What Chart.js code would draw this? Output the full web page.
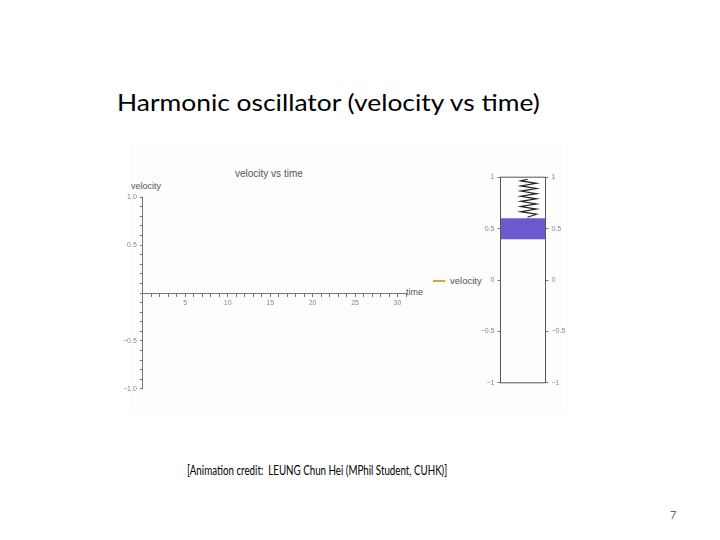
<!DOCTYPE html>
<html>
<head>
<meta charset="utf-8">
<script src="https://cdn.jsdelivr.net/npm/chart.js@4.4.0/dist/chart.umd.min.js"></script>
<style>
  body { margin: 0; width: 720px; height: 540px; background: #fff; position: relative; overflow: hidden; font-family: Lato, "Noto Sans", sans-serif; }
  .abs { position: absolute; white-space: nowrap; }
  #title { left: 117px; top: 87px; font-size: 24px; color: #000; transform: scaleX(1.1); transform-origin: left; }
  #credit { left: 187px; top: 462px; font-size: 13px; color: #000; transform: scaleX(0.75); transform-origin: left; }
  #page { left: 670px; top: 508px; font-size: 11px; color: #666; }
  #panel { left: 130px; top: 143px; width: 433px; height: 272px; background: #fdfdfd; }
  .small { font-family: "Liberation Sans", Arial, sans-serif; color: #555; font-size: 9px; }
  #ctitle { left: 235px; top: 168px; font-size: 10px; }
  #vlabel { left: 131px; top: 181px; }
  #tlabel { left: 406px; top: 287px; }
  #legend { left: 433px; top: 275px; font-size: 9.5px; }
  #legend span { display: inline-block; width: 12px; height: 2px; background: #e0a040; vertical-align: middle; margin-right: 5px; }
  #main { left: 120px; top: 190px; }
  #osc { left: 478px; top: 170px; }
</style>
</head>
<body>
<div id="panel" class="abs"></div>
<div id="title" class="abs">Harmonic oscillator (velocity vs time)</div>
<div id="ctitle" class="abs small">velocity vs time</div>
<div id="vlabel" class="abs small">velocity</div>
<div id="tlabel" class="abs small">time</div>
<div id="legend" class="abs small"><span></span>velocity</div>
<div id="credit" class="abs">[Animation credit: &nbsp;LEUNG Chun Hei (MPhil Student, CUHK)]</div>
<div id="page" class="abs">7</div>
<canvas id="main" class="abs" width="290" height="206"></canvas>
<canvas id="osc" class="abs" width="90" height="220"></canvas>
<script>
// Datos: aún no hay puntos de velocidad en este fotograma
const timeValues = [];
const velocityValues = [];
const xLabelTicks = [5, 10, 15, 20, 25, 30];
const yLabelTicks = [1.0, 0.5, -0.5, -1.0];

// Oscilador: posición del bloque y del resorte
const blockTop = 0.6;
const blockBottom = 0.4;
const springX = [0.6, 0.45, 0.8, 0.45, 0.8, 0.45, 0.8, 0.45, 0.8, 0.45, 0.8, 0.45, 0.8, 0.45, 0.8, 0.6];
const springY = [0.98, 0.965, 0.94, 0.915, 0.89, 0.865, 0.84, 0.815, 0.79, 0.765, 0.74, 0.715, 0.69, 0.665, 0.64, 0.61];
const oscTicks = [1, 0.5, 0, -0.5, -1];

const gray = '#777';
const tickFont = { family: 'Liberation Sans', size: 7 };

new Chart(document.getElementById('main'), {
  type: 'line',
  data: {
    datasets: [{
      label: 'velocity',
      data: timeValues.map((t, i) => ({ x: t, y: velocityValues[i] })),
      borderColor: '#e0a040',
      pointRadius: 0,
    }],
  },
  options: {
    responsive: false,
    animation: false,
    layout: { padding: { top: 6, bottom: 6, right: 4 } },
    plugins: { legend: { display: false }, tooltip: { enabled: false } },
    scales: {
      x: {
        type: 'linear',
        min: 0,
        max: 31,
        position: { y: 0 },
        border: { color: gray },
        grid: { drawOnChartArea: false, tickLength: 3, color: gray },
        ticks: {
          stepSize: 1,
          autoSkip: false,
          maxRotation: 0,
          color: '#888',
          font: tickFont,
          callback: v => xLabelTicks.includes(v) ? String(v) : '',
        },
      },
      y: {
        type: 'linear',
        min: -1,
        max: 1,
        position: 'left',
        border: { color: gray },
        grid: { drawOnChartArea: false, tickLength: 3, color: gray },
        ticks: {
          stepSize: 0.1,
          autoSkip: false,
          color: '#888',
          font: tickFont,
          callback: v => {
            const r = Math.round(v * 10) / 10;
            return yLabelTicks.includes(r) ? r.toFixed(1).replace('-', '\u2212') : '';
          },
        },
      },
    },
  },
});

// Marco del oscilador
const boxPlugin = {
  id: 'box',
  afterDraw(chart) {
    const a = chart.chartArea;
    const c = chart.ctx;
    c.save();
    c.strokeStyle = '#555';
    c.lineWidth = 1;
    c.strokeRect(a.left, a.top, a.right - a.left, a.bottom - a.top);
    c.restore();
  },
};

new Chart(document.getElementById('osc'), {
  type: 'line',
  data: {
    datasets: [
      {
        data: [{ x: 0, y: blockTop }, { x: 1, y: blockTop }],
        borderColor: '#6a5acd',
        borderWidth: 0,
        pointRadius: 0,
        fill: '+1',
        backgroundColor: '#6a5acd',
      },
      {
        data: [{ x: 0, y: blockBottom }, { x: 1, y: blockBottom }],
        borderColor: '#9a90e0',
        borderWidth: 1,
        pointRadius: 0,
      },
      {
        data: springX.map((x, i) => ({ x, y: springY[i] })),
        borderColor: '#222',
        borderWidth: 1.2,
        pointRadius: 0,
        tension: 0,
      },
    ],
  },
  options: {
    responsive: false,
    animation: false,
    layout: { padding: { top: 7, bottom: 7 } },
    plugins: { legend: { display: false }, tooltip: { enabled: false } },
    scales: {
      x: { type: 'linear', min: 0, max: 1, display: false },
      y: {
        min: -1, max: 1, position: 'left',
        afterBuildTicks: s => { s.ticks = oscTicks.map(v => ({ value: v })); },
        border: { display: false },
        grid: { drawOnChartArea: false, tickLength: 3, color: gray },
        ticks: { color: '#888', font: tickFont, callback: v => String(v).replace('-', '\u2212') },
      },
      y2: {
        min: -1, max: 1, position: 'right',
        afterBuildTicks: s => { s.ticks = oscTicks.map(v => ({ value: v })); },
        border: { display: false },
        grid: { drawOnChartArea: false, tickLength: 3, color: gray },
        ticks: { color: '#888', font: tickFont, callback: v => String(v).replace('-', '\u2212') },
      },
    },
  },
  plugins: [boxPlugin],
});
</script>
</body>
</html>
